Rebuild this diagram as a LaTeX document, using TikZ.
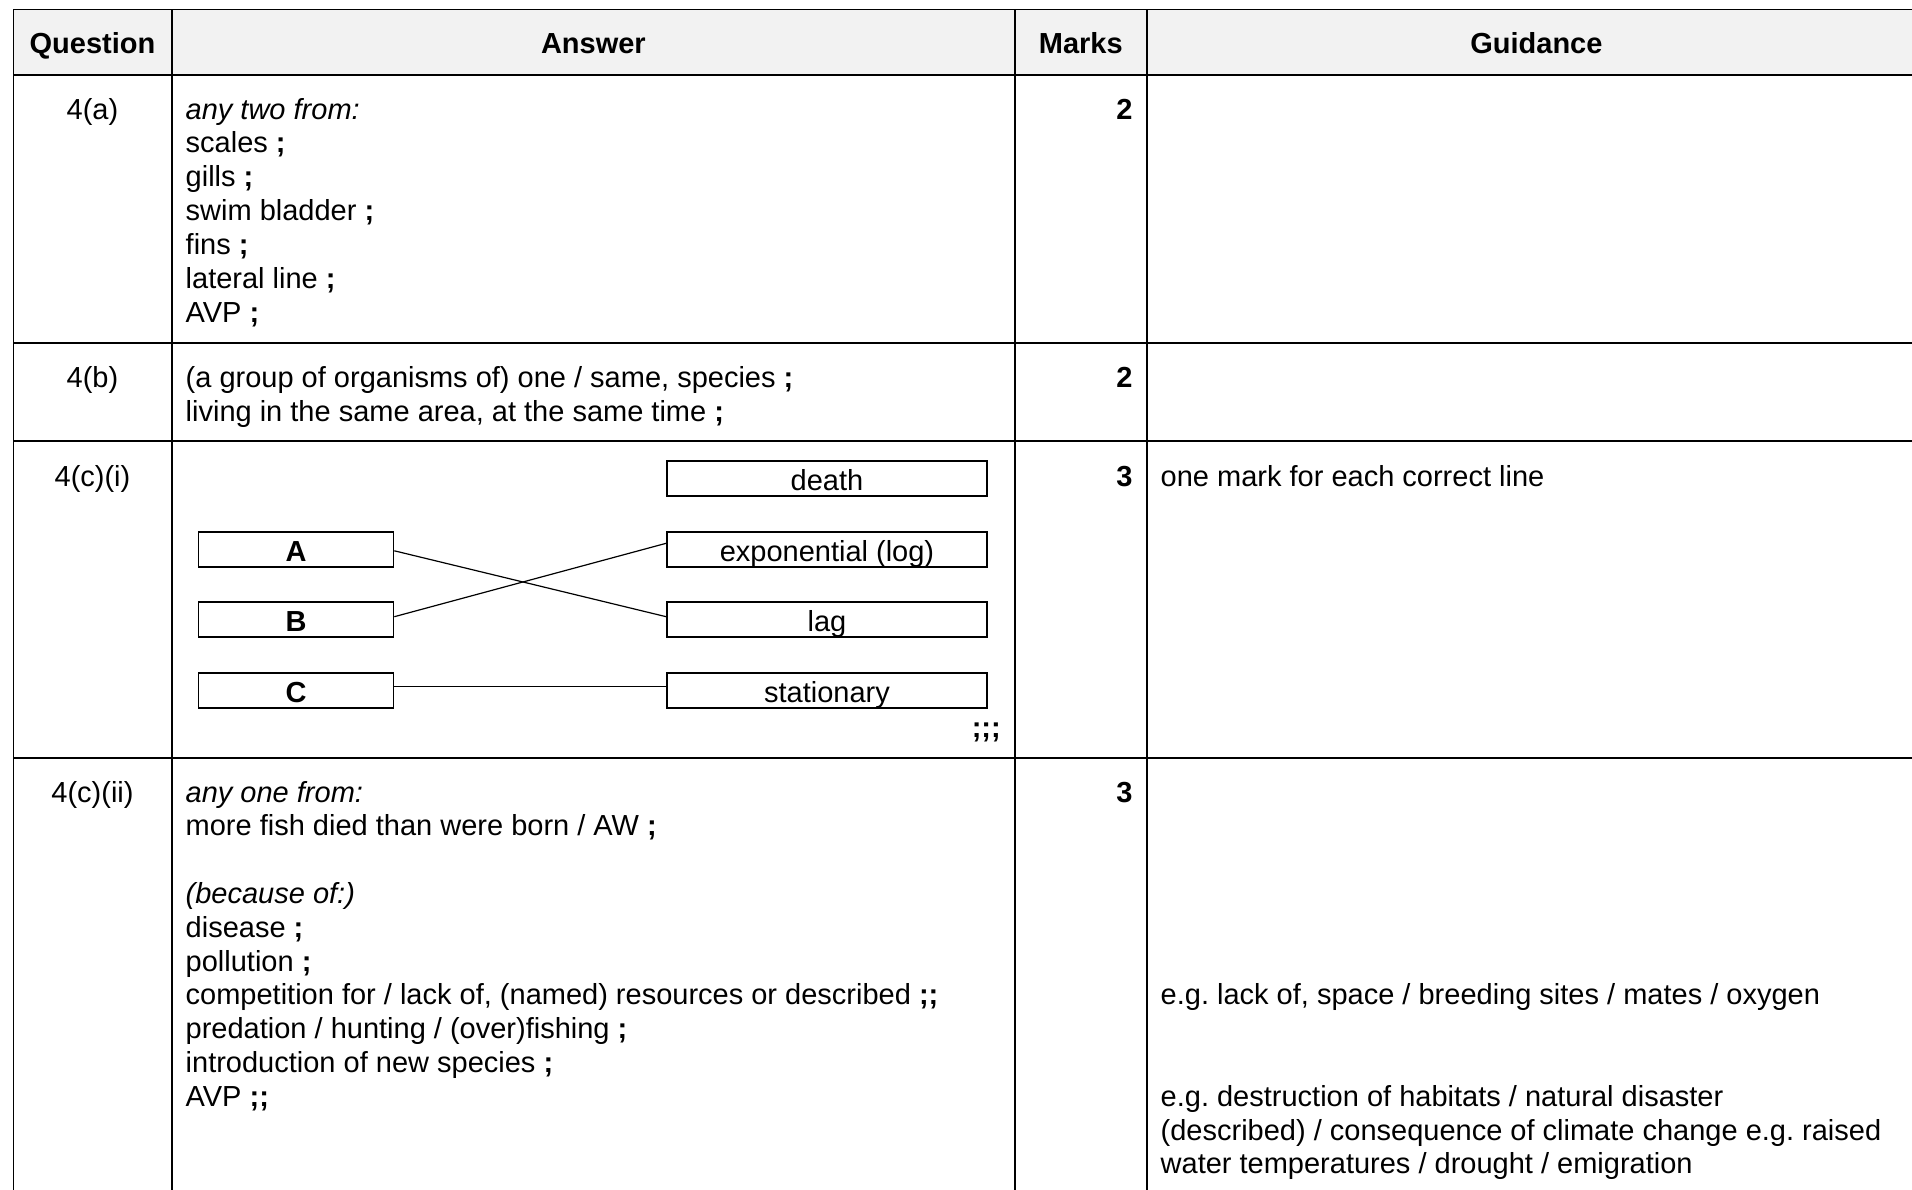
\documentclass[tikz,border=0pt]{standalone}
\usepackage{fontspec}
\setmainfont{Liberation Sans}
\frenchspacing
\newcommand{\mksemi}{\textbf{;}}
\definecolor{hdrgray}{HTML}{F2F2F2}
\begin{document}
\begin{tikzpicture}[x=1pt,y=-1pt,
  txt/.style={anchor=base west, inner sep=0pt, font=\fontsize{29}{34}\selectfont\frenchspacing},
  ctr/.style={anchor=base, inner sep=0pt, font=\fontsize{29}{34}\selectfont},
  hdr/.style={anchor=base, inner sep=0pt, font=\fontsize{29}{34}\selectfont\bfseries},
  mrk/.style={anchor=base east, inner sep=0pt, font=\fontsize{29}{34}\selectfont\bfseries},
  grid/.style={line width=1.7pt},
  mbox/.style={draw, line width=1.7pt, minimum height=35pt, inner sep=0pt,
    text height=24.6pt, text depth=0pt, font=\fontsize{29}{34}\selectfont},
  lbox/.style={mbox, minimum width=195pt, font=\fontsize{29}{34}\selectfont\bfseries},
  rbox/.style={mbox, minimum width=320pt},
  link/.style={line width=1.2pt}]

\useasboundingbox (0,0) rectangle (1912,1190);
\fill[white] (0,0) rectangle (1912,1190);
\clip (0,0) rectangle (1912,1190);

% header background
\fill[hdrgray] (13.3,9.3) rectangle (1926,74.7);

% table rules
\draw[line width=1.2pt] (13.3,9.3) -- (1926,9.3);
\draw[line width=2pt] (13.3,74.7) -- (1926,74.7);
\draw[grid] (13.3,342.7) -- (1926,342.7);
\draw[grid] (13.3,441.3) -- (1926,441.3);
\draw[grid] (13.3,757.7) -- (1926,757.7);
\draw[line width=1.4pt] (13.3,9.3) -- (13.3,1200);
\draw[grid] (171.7,9.3) -- (171.7,1200);
\draw[grid] (1015,9.3) -- (1015,1200);
\draw[grid] (1146.7,9.3) -- (1146.7,1200);

% header
\node[hdr] (hq) at (92.5,53.3) {Question};
\node[hdr] (ha) at (593.4,53.3) {Answer};
\node[hdr] (hm) at (1080.8,53.3) {Marks};
\node[hdr] (hg) at (1536.4,53.3) {Guidance};

\begin{scope}[yshift=-2.4pt]
% row 4(a)
\node[ctr] (q1) at (92.5,116.7) {4(a)};
\node[mrk] (m1) at (1132.6,116.7) {2};
\foreach \t [count=\i from 0] in {{\textit{any two from:}}, {scales \mksemi}, {gills \mksemi},
  {swim bladder \mksemi}, {fins \mksemi}, {lateral line \mksemi}, {AVP \mksemi}}
  \node[txt, name=a\i] at (185.5,116.7+33.9*\i) {\t};

% row 4(b)
\node[ctr] (q2) at (92.5,385) {4(b)};
\node[mrk] (m2) at (1132.6,385) {2};
\node[txt] (b0) at (185.5,385) {(a group of organisms of) one / same, species \mksemi};
\node[txt] (b1) at (185.5,418.9) {living in the same area, at the same time \mksemi};

% row 4(c)(i)
\node[ctr] (q3) at (92.5,484.5) {4(c)(i)};
\node[mrk] (m3) at (1132.6,484.5) {3};
\node[txt] (g3) at (1160.5,484.5) {one mark for each correct line};
\node[mrk] (ticks) at (1001,735) {;;;};

% row 4(c)(ii)
\node[ctr] (q4) at (92.5,799.6) {4(c)(ii)};
\node[mrk] (m4) at (1132.6,799.6) {3};
\foreach \t [count=\i from 0] in {{\textit{any one from:}}, {more fish died than were born / AW \mksemi}, {},
  {\textit{(because of:)}}, {disease \mksemi}, {pollution \mksemi},
  {competition for / lack of, (named) resources or described \textbf{;;}},
  {predation / hunting / (over)fishing \mksemi}, {introduction of new species \mksemi}, {AVP \textbf{;;}}}
  \node[txt, name=c\i] at (185.5,799.6+33.8*\i) {\t};

\node[txt] (g4a) at (1160.5,1002.4) {e.g. lack of, space / breeding sites / mates / oxygen};
\node[txt] (g4b) at (1160.5,1103.8) {e.g. destruction of habitats / natural disaster};
\node[txt] (g4c) at (1160.5,1137.6) {(described) / consequence of climate change e.g. raised};
\node[txt] (g4d) at (1160.5,1171.4) {water temperatures / drought / emigration};
\end{scope}

% matching diagram
\node[rbox] (death) at (827,478.4) {death};
\node[rbox] (expo) at (827,549.3) {exponential (log)};
\node[rbox] (lag) at (827,619.2) {lag};
\node[rbox] (stat) at (827,690.4) {stationary};
\node[lbox] (A) at (296,549.3) {A};
\node[lbox] (B) at (296,619.2) {B};
\node[lbox] (C) at (296,690.4) {C};

\draw[link] ([yshift=-1.5pt]A.east) -- ([yshift=2.5pt]lag.west);
\draw[link] ([yshift=2.5pt]B.east) -- ([yshift=6pt]expo.west);
\draw[link] ([yshift=4pt]C.east) -- ([yshift=4pt]stat.west);
\end{tikzpicture}
\end{document}
